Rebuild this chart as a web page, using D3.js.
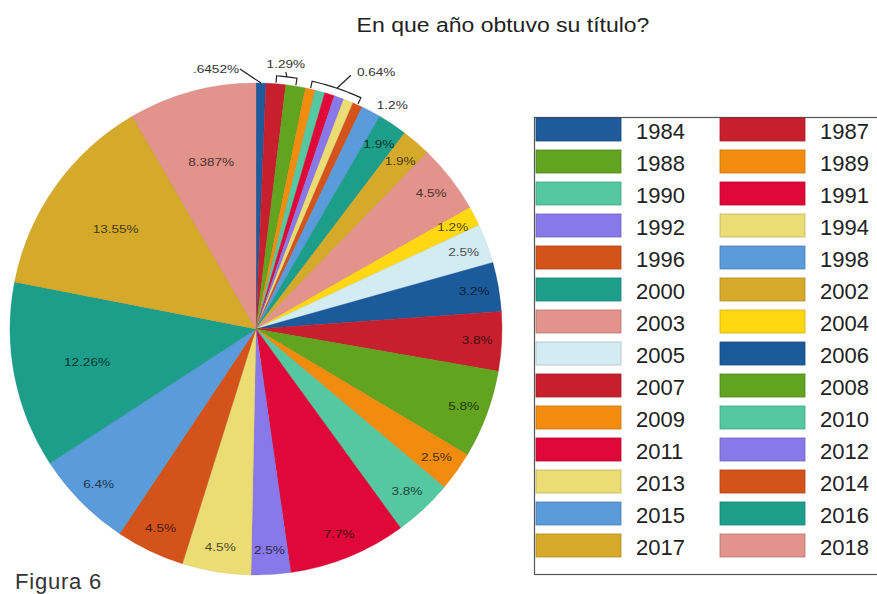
<!DOCTYPE html>
<html>
<head>
<meta charset="utf-8">
<script src="https://cdn.jsdelivr.net/npm/d3@7"></script>
<style>
  body { margin: 0; background: #fff; }
  svg { display: block; font-family: "Liberation Sans", Arial, sans-serif; }
</style>
</head>
<body>
<svg id="chart"></svg>
<script>
// años y cantidad de respuestas (N = 155)
const YEARS = ["1984","1987","1988","1989","1990","1991","1992","1994","1996","1998",
               "2000","2002","2003","2004","2005","2006","2007","2008","2009","2010",
               "2011","2012","2013","2014","2015","2016","2017","2018"];
const COUNTS = [1,2,2,1,1,1,1,1,1,2,
                3,3,7,2,4,5,6,9,4,6,
                12,4,7,7,10,19,21,13];
// etiquetas tal como aparecen en el grafico
const LABELS = [".6452%","1.29%","1.29%","0.64%","0.64%","0.64%","0.64%","0.64%","0.64%","1.2%",
                "1.9%","1.9%","4.5%","1.2%","2.5%","3.2%","3.8%","5.8%","2.5%","3.8%",
                "7.7%","2.5%","4.5%","4.5%","6.4%","12.26%","13.55%","8.387%"];
const COLORS = ["#1e5a9c","#c71f2d","#62a31f","#f28c0e","#55c8a2","#df0838","#8878e8","#ebdc74","#d4531b","#5a9bdc",
                "#1c9e8b","#d5aa2b","#e2938b","#ffd812","#d3ebf3","#1b5a9b","#c71f2d","#62a31f","#f28c0e","#55c8a2",
                "#df0838","#8878e8","#ebdc74","#d4531b","#5a9bdc","#1c9e8b","#d5aa2b","#e2938b"];
const N_OUTSIDE = 10;   // primeras rebanadas con etiqueta afuera

const WIDTH = 877;
const HEIGHT = 594;
const CX = 256, CY = 329, R = 246;
const SX = 1.18;   // el original esta un poco estirado en horizontal

let data = YEARS.map(function(y, i){
    return { year: y, count: COUNTS[i], label: LABELS[i], color: COLORS[i], i: i };
});

let svg = d3.select("#chart")
    .attr("width", WIDTH)
    .attr("height", HEIGHT);

svg.append("text")
    .text("En que año obtuvo su título?")
    .attr("transform", "translate(503,32) scale(" + SX + ",1)")
    .attr("font-size", "19.5px")
    .attr("fill", "#222")
    .style("text-anchor", "middle");

svg.append("text")
    .text("Figura 6")
    .attr("x", 15)
    .attr("y", 589)
    .attr("font-size", "22px")
    .attr("letter-spacing", "0.8px")
    .attr("fill", "#333");

// ---- pie ----
let pie = d3.pie().sort(null).value(function(d){ return d.count; });
let arcs = pie(data);
let arc = d3.arc().innerRadius(0).outerRadius(R);

let g = svg.append("g").attr("transform", "translate(" + CX + "," + CY + ")");

g.selectAll("path")
    .data(arcs)
    .enter()
    .append("path")
    .attr("d", arc)
    .style("fill", function(d){ return d.data.color; })
    .style("stroke", function(d){ return d3.color(d.data.color).darker(0.3); })
    .style("stroke-width", 0.4);

function polar(a, r){ return [r * Math.sin(a), -r * Math.cos(a)]; }
function mid(d){ return (d.startAngle + d.endAngle) / 2; }
function tr(x, y){ return "translate(" + x + "," + y + ") scale(" + SX + ",1)"; }

// etiquetas internas
g.selectAll("text.in")
    .data(arcs.filter(function(d){ return d.data.i >= N_OUTSIDE; }))
    .enter()
    .append("text")
    .attr("class", "in")
    .text(function(d){ return d.data.label; })
    .attr("transform", function(d){
        let f = d.data.count / d3.sum(COUNTS);
        let p = polar(mid(d), R * (f > 0.08 ? 0.7 : 0.9));
        return tr(p[0], p[1]);
    })
    .attr("font-size", "11.5px")
    .attr("fill", function(d){ return d3.color(d.data.color).darker(3); })
    .style("text-anchor", "middle")
    .style("dominant-baseline", "central");

// etiquetas externas: agrupar rebanadas consecutivas con la misma etiqueta
let groups = [];
arcs.slice(0, N_OUTSIDE).forEach(function(d){
    let last = groups[groups.length - 1];
    if (last && last.label === d.data.label) last.items.push(d);
    else groups.push({ label: d.data.label, items: [d] });
});

let line = d3.line();
groups.forEach(function(gr, k){
    let a1 = mid(gr.items[0]);
    let a2 = mid(gr.items[gr.items.length - 1]);
    if (gr.items.length > 1) {
        // corchete
        let pts = [polar(a1, R + 1)];
        d3.range(0, 1.0001, 0.1).forEach(function(t){
            pts.push(polar(a1 + (a2 - a1) * t, R + 8));
        });
        pts.push(polar(a2, R + 1));
        g.append("path").attr("d", line(pts))
            .style("fill", "none").style("stroke", "#222").style("stroke-width", 1.2);
        let m = polar((a1 + a2) / 2, R + 8);
        let wide = gr.items.length > 2;
        let e = wide ? [m[0] + 14, m[1] - 13] : [m[0] - 1, m[1] - 5];
        g.append("path").attr("d", line([m, e]))
            .style("fill", "none").style("stroke", "#222").style("stroke-width", 1.2);
        g.append("text").text(gr.label)
            .attr("transform", wide ? tr(e[0] + 6, e[1] + 1) : tr(e[0], e[1] - 4))
            .attr("font-size", "11.5px")
            .attr("fill", "#333")
            .style("text-anchor", wide ? "start" : "middle");
    } else if (k === 0) {
        // linea guia
        let p1 = polar(a1, R);
        let p2 = [p1[0] - 21, p1[1] - 14];
        g.append("path").attr("d", line([p1, p2]))
            .style("fill", "none").style("stroke", "#222").style("stroke-width", 1.2);
        g.append("text").text(gr.label)
            .attr("transform", tr(p2[0] - 1, p2[1] + 4))
            .attr("font-size", "11.5px")
            .attr("fill", "#333")
            .style("text-anchor", "end");
    } else {
        let p = polar(a1, R + 6);
        g.append("text").text(gr.label)
            .attr("transform", tr(p[0] + 3, p[1] + 3))
            .attr("font-size", "11.5px")
            .attr("fill", "#333")
            .style("text-anchor", "start");
    }
});

// ---- leyenda ----
const LEG_X = 534, LEG_Y = 117, ROW = 32;
let rows = Math.ceil(YEARS.length / 2);

svg.append("rect")
    .attr("x", LEG_X + 0.5)
    .attr("y", LEG_Y + 0.5)
    .attr("width", 400)
    .attr("height", rows * ROW + 9)
    .style("fill", "#fff")
    .style("stroke", "#555")
    .style("stroke-width", 1.2);

let colX = d3.scaleOrdinal().domain([0, 1]).range([LEG_X + 2, LEG_X + 186]);
let rowY = d3.scaleLinear().domain([0, rows]).range([LEG_Y + 1, LEG_Y + 1 + rows * ROW]);

let item = svg.selectAll("g.leg")
    .data(data)
    .enter()
    .append("g")
    .attr("class", "leg")
    .attr("transform", function(d){
        return "translate(" + colX(d.i % 2) + "," + rowY(Math.floor(d.i / 2)) + ")";
    });

item.append("rect")
    .attr("width", 85)
    .attr("height", 23)
    .style("fill", function(d){ return d.color; })
    .style("stroke", function(d){ return d3.color(d.color).darker(0.6); })
    .style("stroke-width", 0.8);

item.append("text")
    .text(function(d){ return d.year; })
    .attr("x", 100)
    .attr("y", 21)
    .attr("font-size", "22px")
    .attr("fill", "#222");
</script>
</body>
</html>
